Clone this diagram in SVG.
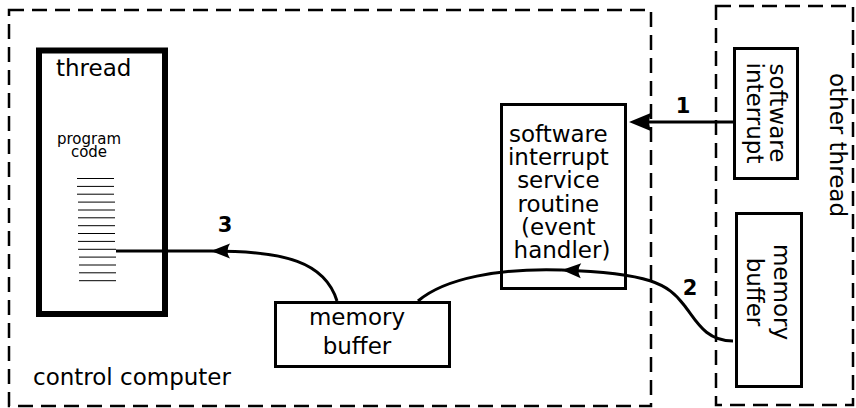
<svg xmlns="http://www.w3.org/2000/svg" width="856" height="408" viewBox="0 0 856 408">
<style>
  .t { font-family: "DejaVu Sans", Verdana, sans-serif; font-size: 23px; fill: #000; }
  .sm { font-family: "DejaVu Sans", Verdana, sans-serif; font-size: 15px; fill: #000; }
  .lbl { font-family: "DejaVu Sans", Verdana, sans-serif; font-size: 21px; font-weight: bold; fill: #000; }
  .dash { fill: none; stroke: #000; stroke-width: 2.5; stroke-dasharray: 15 8; }
  .box { fill: #fff; stroke: #000; stroke-width: 3; }
  .conn { fill: none; stroke: #000; stroke-width: 3; }
  .code line { stroke: #000; stroke-width: 1; }
</style>
<defs>
  <marker id="headBig" markerUnits="userSpaceOnUse" markerWidth="40" markerHeight="40" viewBox="-20 -20 40 40" refX="0" refY="0" orient="auto" overflow="visible">
    <path d="M12,0 L-11,-9.5 Q-5,0 -11,9.5 Z" fill="#000"/>
  </marker>
  <marker id="head" markerUnits="userSpaceOnUse" markerWidth="40" markerHeight="40" viewBox="-20 -20 40 40" refX="0" refY="0" orient="auto" overflow="visible">
    <path d="M0,0 L-19,-7.5 Q-14,0 -19,7.5 Z" fill="#000"/>
  </marker>
</defs>

<g id="control-computer">
  <rect class="dash" x="9" y="10" width="642" height="396"/>
  <text class="t" x="33" y="385">control computer</text>
</g>

<g id="other-thread">
  <rect class="dash" x="716" y="6" width="137" height="399"/>
  <text class="t" transform="translate(830,145) rotate(90)" text-anchor="middle">other thread</text>
</g>

<g id="thread">
  <rect x="39" y="50.5" width="126" height="263.5" fill="#fff" stroke="#000" stroke-width="6"/>
  <text class="t" x="56" y="76">thread</text>
  <text class="sm" text-anchor="middle"><tspan x="89" y="144">program</tspan><tspan x="89" y="156.5">code</tspan></text>
  <g class="code">
    <line x1="77" y1="178.5" x2="114" y2="178.5"/>
    <line x1="77" y1="186.4" x2="114" y2="186.4"/>
    <line x1="77" y1="194.2" x2="114" y2="194.2"/>
    <line x1="78" y1="202.1" x2="115" y2="202.1"/>
    <line x1="78" y1="210" x2="115" y2="210"/>
    <line x1="78" y1="217.8" x2="115" y2="217.8"/>
    <line x1="78" y1="225.7" x2="115" y2="225.7"/>
    <line x1="78" y1="233.5" x2="115" y2="233.5"/>
    <line x1="78" y1="241.4" x2="115" y2="241.4"/>
    <line x1="78" y1="249.3" x2="116" y2="249.3"/>
    <line x1="79" y1="257.1" x2="116" y2="257.1"/>
    <line x1="79" y1="265" x2="116" y2="265"/>
    <line x1="79" y1="272.8" x2="116" y2="272.8"/>
    <line x1="79" y1="280.7" x2="116" y2="280.7"/>
  </g>
</g>

<g id="memory-buffer-local">
  <rect class="box" x="275.5" y="302.5" width="174" height="64"/>
  <text class="t" text-anchor="middle"><tspan x="357" y="325">memory</tspan><tspan x="357" y="354">buffer</tspan></text>
</g>

<g id="isr">
  <rect class="box" x="501.5" y="104.5" width="124" height="184"/>
  <text class="t" text-anchor="middle">
    <tspan x="562" y="142">software</tspan>
    <tspan x="562" y="165">interrupt</tspan>
    <tspan x="562" y="188">service</tspan>
    <tspan x="562" y="211.5">routine</tspan>
    <tspan x="562" y="235">(event</tspan>
    <tspan x="562" y="258">handler)</tspan>
  </text>
</g>

<g id="software-interrupt">
  <rect class="box" x="734.5" y="48.5" width="63" height="130"/>
  <text class="t" text-anchor="middle" transform="translate(770,113) rotate(90)">software</text>
  <text class="t" text-anchor="middle" transform="translate(747,113) rotate(90)">interrupt</text>
</g>

<g id="memory-buffer-remote">
  <rect class="box" x="736.5" y="213.5" width="65" height="173"/>
  <text class="t" text-anchor="middle" transform="translate(774,292) rotate(90)">memory</text>
  <text class="t" text-anchor="middle" transform="translate(747,292) rotate(90)">buffer</text>
</g>

<g id="connectors">
  <path class="conn" d="M733,122 H641" marker-end="url(#headBig)"/>
  <path class="conn" d="M733,341 C705,341 696,320 684,305 C668,284 650,273 562,270" marker-end="url(#head)"/>
  <path class="conn" d="M562,270 C500,268 445,278 418,301"/>
  <path class="conn" d="M337,301 C325,262 285,251 211,251 L116,251" marker-mid="url(#head)"/>
  <text class="lbl" x="683" y="113" text-anchor="middle">1</text>
  <text class="lbl" x="690" y="295" text-anchor="middle">2</text>
  <text class="lbl" x="225" y="232" text-anchor="middle">3</text>
</g>
</svg>
